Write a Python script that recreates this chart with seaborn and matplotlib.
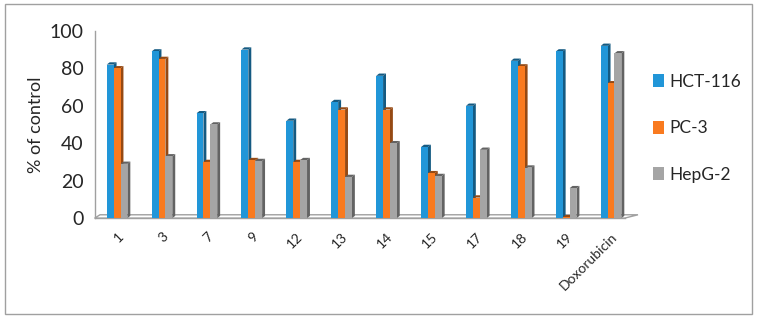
import pandas as pd
import seaborn as sns
import matplotlib.pyplot as plt
from matplotlib.patches import Rectangle, Polygon
from matplotlib.colors import to_rgb

compounds = ["1", "3", "7", "9", "12", "13", "14", "15", "17", "18", "19", "Doxorubicin"]
hct116 = [82, 89, 56, 90, 52, 62, 76, 38, 60, 84, 89, 92]
pc3 = [80, 85, 30, 31, 30, 58, 58, 24, 11, 81, 0.5, 72]
hepg2 = [29, 33, 50, 30.5, 31, 22, 40, 22.5, 36.5, 27, 16, 88]

lines = ["HCT-116", "PC-3", "HepG-2"]
colors = ["#2196D8", "#F97A1F", "#A5A5A5"]

df = pd.DataFrame({"compound": compounds, "HCT-116": hct116, "PC-3": pc3, "HepG-2": hepg2})
long = df.melt(id_vars="compound", var_name="line", value_name="pct")

sns.set_style("white")
plt.rcParams["font.family"] = ["Lato", "DejaVu Sans"]

fig = plt.figure(figsize=(7.57, 3.18), dpi=100)
ax = fig.add_axes([0.125, 0.314, 0.70, 0.589])

sns.barplot(data=long, x="compound", y="pct", hue="line", hue_order=lines,
            palette=colors, width=0.46, gap=0, ax=ax, legend=True, saturation=1,
            linewidth=0, edgecolor="none", zorder=3)

# fake 3D: darker side and top on every bar
dx, dy = 0.065, 1.2
for p in list(ax.patches):
    x0, w, h = p.get_x(), p.get_width(), p.get_height()
    if w <= 0:
        continue
    r, g, b = to_rgb(p.get_facecolor())
    dark = (r * 0.6, g * 0.6, b * 0.6)
    x1 = x0 + w
    ax.add_patch(Polygon([(x1, 0), (x1 + dx, dy), (x1 + dx, h + dy), (x1, h)],
                         closed=True, facecolor=dark, edgecolor="none", zorder=2))
    ax.add_patch(Polygon([(x0, h), (x0 + dx, h + dy), (x1 + dx, h + dy), (x1, h)],
                         closed=True, facecolor=dark, edgecolor="none", zorder=2))

# floor
x_lo, x_hi = -0.5, 11.3
ax.add_patch(Polygon([(x_lo, 0), (x_lo + 0.12, 1.8), (x_hi + 0.3, 1.8), (x_hi, 0)],
                     closed=True, facecolor="none", edgecolor="#A0A0A0",
                     linewidth=1, zorder=1, clip_on=False))

ax.set_ylim(0, 100)
ax.set_xlim(x_lo, x_hi)
ax.set_yticks(range(0, 101, 20))
ax.tick_params(axis="y", labelsize=14, length=0, pad=8)
ax.tick_params(axis="x", labelsize=10, length=0, pad=9)
plt.setp(ax.get_xticklabels(), rotation=45, ha="right", rotation_mode="anchor")
ax.set_xlabel("")
ax.set_ylabel("% of control", fontsize=13)

for s in ["top", "right"]:
    ax.spines[s].set_visible(False)
for s in ["left", "bottom"]:
    ax.spines[s].set_color("#A0A0A0")
    ax.spines[s].set_linewidth(1)

ax.legend(loc="center left", bbox_to_anchor=(1.035, 0.48), frameon=False,
          fontsize=12.5, handlelength=0.6, handleheight=0.8, labelspacing=1.75,
          handletextpad=0.3, borderaxespad=0.2)

fig.patches.append(Rectangle((0.006, 0.013), 0.988, 0.975, transform=fig.transFigure,
                             fill=False, edgecolor="#A0A0A0", linewidth=1))

fig.savefig("out.png", dpi=100)
